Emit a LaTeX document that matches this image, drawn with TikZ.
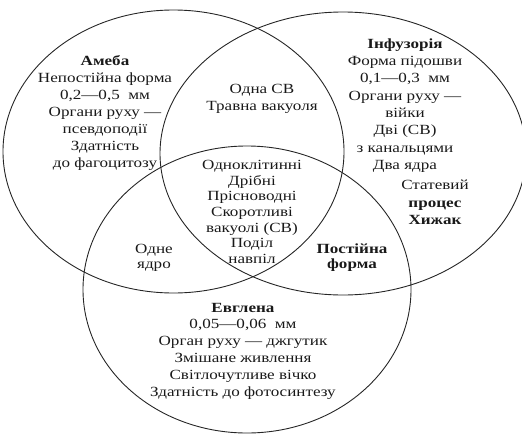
\documentclass[tikz,border=0pt]{standalone}
\usepackage{fontspec}
\setmainfont{Liberation Serif}[FakeStretch=1.22]
\begin{document}
\begin{tikzpicture}[x=1pt,y=-1pt,
  ring/.style={line width=0.9pt, draw=black!85},
  lbl/.style={align=center, inner sep=0pt, text=black!90, font=\fontsize{14}{17}\selectfont},
  lblc/.style={align=center, inner sep=0pt, text=black!90, font=\fontsize{14}{15.7}\selectfont}]
\useasboundingbox (0,0) rectangle (522,442);
% three sets
\draw[ring] (173.5,151.5) ellipse [x radius=170.5pt, y radius=141.5pt];
\draw[ring] (343,153.5) ellipse [x radius=183pt, y radius=141.5pt];
\draw[ring] (247,289.5) ellipse [x radius=164pt, y radius=143.5pt];
% texts
\node[lbl] (ameba) at (105,113) {\textbf{Амеба}\\Непостійна форма\\0,2—0,5\ \ мм\\Органи руху —\\псевдоподії\\Здатність\\до фагоцитозу};
\node[lbl] (ab) at (262,98.5) {Одна СВ\\Травна вакуоля};
\node[lbl, font=\fontsize{14}{17.3}\selectfont] (inf) at (405,105.5) {\textbf{Інфузорія}\\Форма підошви\\0,1—0,3\ \ мм\\Органи руху —\\війки\\Дві (СВ)\\з канальцями\\Два ядра};
\node[lbl, font=\fontsize{14}{17.5}\selectfont] (inf2) at (435,202.5) {Статевий\\\textbf{процес}\\\textbf{Хижак}};
\node[lblc] (all) at (252,212) {Одноклітинні\\Дрібні\\Прісноводні\\Скоротливі\\вакуолі (СВ)\\Поділ\\навпіл};
\node[lbl, font=\fontsize{14}{15}\selectfont] (ac) at (154,257.5) {Одне\\ядро};
\node[lbl, font=\fontsize{14}{15}\selectfont] (bc) at (352,257.5) {\textbf{Постійна}\\\textbf{форма}};
\node[lbl, font=\fontsize{14}{16.8}\selectfont] (evg) at (243,351) {\textbf{Евглена}\\0,05—0,06\ \ мм\\Орган руху — джгутик\\Змішане живлення\\Світлочутливе\ вічко\\Здатність до фотосинтезу};
\end{tikzpicture}
\end{document}
